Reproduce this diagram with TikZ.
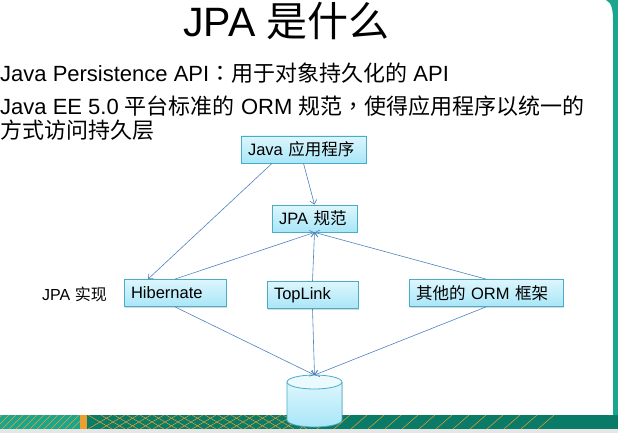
\documentclass[tikz,border=0pt]{standalone}
\usepackage{fontspec}
\setmainfont{Liberation Sans}
\newfontfamily\cjk{Noto Sans CJK SC}
\newfontfamily\cjkpont{Noto Sans CJK TC}
\usepackage{tikz}
\usetikzlibrary{arrows.meta, shadows}
\definecolor{cxborda}{HTML}{4BACC6}
\definecolor{cxtopo}{HTML}{DDF6FD}
\definecolor{cxbase}{HTML}{A8E6F8}
\definecolor{setaazul}{HTML}{4F81BD}
\definecolor{verdeescuro}{HTML}{0A7B67}
\definecolor{verdeclaro}{HTML}{1AA68E}
\definecolor{laranja}{HTML}{E8A030}
\definecolor{cinza}{HTML}{E6E6E6}

\begin{document}
\begin{tikzpicture}[x=1pt, y=-1pt,
    caixa/.style={draw=cxborda, line width=0.8pt, top color=cxtopo, bottom color=cxbase,
      font=\fontsize{16.5}{19}\selectfont, align=left, inner xsep=7pt, inner ysep=0pt,
      minimum height=27pt, drop shadow={shadow xshift=1.2pt, shadow yshift=-1.2pt, opacity=0.3}},
    seta/.style={draw=setaazul, line width=0.6pt, -{Straight Barb[length=4pt, width=7pt]}}]
    \useasboundingbox (0,0) rectangle (618,433);
    % Faixas do fundo
    \fill[verdeescuro] (0,415) rectangle (618,429);
    \fill[verdeclaro] (0,415) rectangle (85,429);
    \fill[cinza] (0,429) rectangle (618,433);
    \fill[verdeclaro] (606,0) .. controls (612,3) and (613,10) .. (613,22) -- (613,415) -- (618,415) -- (618,0) -- cycle;
    \begin{scope}
      \clip (0,415) rectangle (618,429);
      \foreach \i in {-12,-5,...,78} \draw[laranja, line width=0.5pt] (\i,429) -- (\i+14,415);
      \foreach \i in {88,101,...,290} {
        \draw[laranja, line width=0.5pt] (\i,429) -- (\i+24,415);
        \draw[laranja, line width=0.5pt] (\i,415) -- (\i+24,429);
      }
      \foreach \i in {300,317,...,545} \draw[laranja, line width=0.5pt] (\i,429) -- (\i+16,415);
    \end{scope}
    \fill[laranja] (80,415) rectangle (87,429);
    % Título e texto
    \node[font=\fontsize{41}{48}\selectfont, anchor=base, inner sep=0pt] (titulo) at (286.5,37) {JPA {\cjk 是什么}};
    \node[font=\fontsize{22}{26}\selectfont, anchor=base west, inner sep=0pt] (linha1) at (0,82)
      {Java Persistence API{\cjkpont ：}{\cjk 用于对象持久化的} API};
    \node[font=\fontsize{22}{26}\selectfont, anchor=base west, inner sep=0pt] (linha2) at (0,115)
      {Java EE 5.0 {\cjk 平台标准的} ORM {\cjk 规范}{\cjkpont ，}{\cjk 使得应用程序以统一的}};
    \node[font=\fontsize{22}{26}\selectfont, anchor=base west, inner sep=0pt] (linha3) at (0,139)
      {\cjk 方式访问持久层};
    % Caixas
    \node[caixa, text width=111pt] (java) at (303.5,149.5) {Java {\cjk 应用程序}};
    \node[caixa, text width=71pt] (jpa) at (314.5,218.5) {JPA {\cjk 规范}};
    \node[caixa, text width=88pt] (hib) at (175,293) {Hibernate};
    \node[caixa, text width=77pt] (toplink) at (312.5,295) {TopLink};
    \node[caixa, text width=140pt] (outros) at (486,293) {{\cjk 其他的} ORM {\cjk 框架}};
    \node[font=\fontsize{16}{19}\selectfont, anchor=base west, inner sep=0pt] (rotulo) at (42,300) {JPA {\cjk 实现}};
    % Banco de dados
    \coordinate (banco) at (314.5,375);
    \fill[top color=cxtopo, bottom color=cxbase] (287,382) -- (287,420) arc[start angle=180, end angle=0, x radius=27.5, y radius=7] -- (342,382) -- cycle;
    \draw[cxborda, line width=0.8pt] (287,382) -- (287,420) arc[start angle=180, end angle=0, x radius=27.5, y radius=7] -- (342,382);
    \filldraw[fill=cxtopo!60!white, draw=cxborda, line width=0.8pt] (314.5,382) ellipse[x radius=27.5, y radius=7];
    % Setas
    \draw[seta] ([xshift=-31.5pt]java.south) -- ([xshift=-27pt]hib.north);
    \draw[seta] (java.south) -- (jpa.north);
    \draw[seta] (hib.north) -- (jpa.south);
    \draw[seta] (toplink.north) -- (jpa.south);
    \draw[seta] (outros.north) -- (jpa.south);
    \draw[seta] (hib.south) -- (banco);
    \draw[seta] (toplink.south) -- (banco);
    \draw[seta] (outros.south) -- (banco);
\end{tikzpicture}
\end{document}
